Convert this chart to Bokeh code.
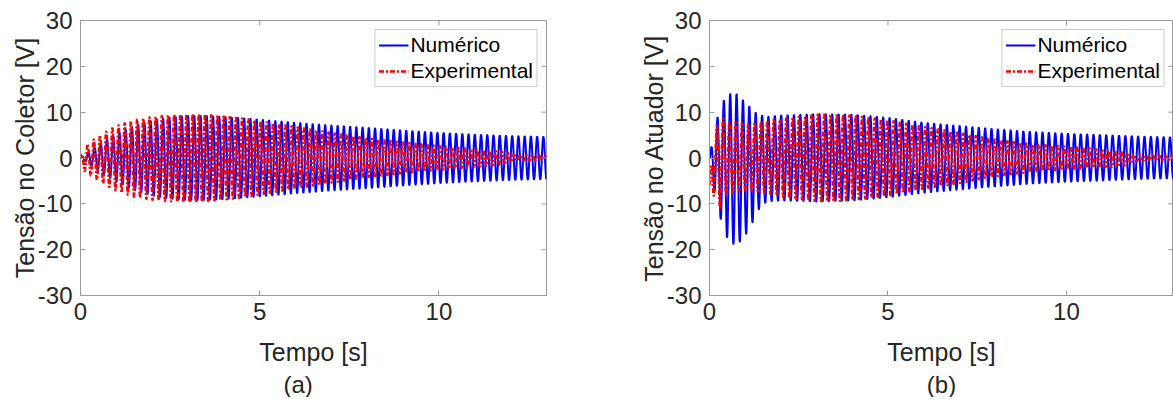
import numpy as np
from bokeh.plotting import figure
from bokeh.layouts import row
from bokeh.models import FixedTicker, Title, Range1d
from bokeh.embed import file_html
from bokeh.resources import INLINE

# ---------------- data ----------------
x_ticks = [0, 5, 10]
y_ticks = [-30, -20, -10, 0, 10, 20, 30]
y_tick_labels = {-30: "-30", -20: "-20", -10: "-10", 0: "0", 10: "10", 20: "20", 30: "30"}

# Panel (a): collector voltage — upper / lower envelope knots [V]
a_num_t = [0, 0.5, 1.0, 1.5, 2.0, 2.5, 3.0, 3.5, 4.0, 5.0, 6.0, 7.0, 8.0, 9.0, 10.0, 11.0, 12.0, 13.0]
a_num_up = [0.0, 2.8, 5.2, 7.0, 8.2, 8.9, 9.2, 9.2, 9.0, 8.4, 7.7, 7.1, 6.6, 6.0, 5.5, 5.1, 4.8, 4.6]
a_num_lo = [0.0, -2.8, -5.2, -7.0, -8.2, -8.9, -9.2, -9.2, -9.0, -8.4, -7.7, -7.1, -6.6, -6.0, -5.5, -5.1, -4.8, -4.6]
a_num_freq = 5.75  # Hz

a_exp_t = [0, 0.1, 0.5, 1.0, 1.5, 2.0, 2.5, 3.0, 3.5, 4.0, 4.5, 5.0, 6.0, 7.0, 8.0, 9.0, 10.0, 11.0, 11.8, 12.1, 13.0]
a_exp_up = [0.0, 2.5, 4.8, 7.0, 8.3, 9.0, 9.4, 9.6, 9.5, 9.1, 8.7, 8.1, 6.8, 5.5, 4.3, 3.4, 2.6, 1.9, 1.4, 0.7, 0.6]
a_exp_lo = [-1.0, -2.8, -5.0, -7.2, -8.5, -9.2, -9.5, -9.7, -9.5, -9.1, -8.7, -8.0, -6.7, -5.4, -4.2, -3.3, -2.6, -1.9, -1.5, -0.6, -0.4]
a_exp_freq = 5.8  # Hz

# Panel (b): actuator voltage
b_num_t = [0, 0.15, 0.35, 0.55, 0.75, 0.95, 1.15, 1.35, 1.6, 2.0, 3.0, 4.0, 5.0, 6.0, 7.0, 8.0, 9.0, 10.0, 11.0, 12.0, 13.0]
b_num_up = [0.0, 7.0, 12.0, 14.0, 14.0, 12.5, 11.0, 9.5, 9.0, 9.3, 9.6, 9.5, 8.8, 7.7, 7.0, 6.3, 5.7, 5.3, 5.0, 4.7, 4.5]
b_num_lo = [0.0, -8.0, -14.5, -18.5, -19.0, -17.5, -15.0, -11.5, -9.5, -9.3, -9.5, -9.3, -8.6, -7.6, -6.9, -6.2, -5.6, -5.2, -4.9, -4.6, -4.4]
b_num_freq = 5.6  # Hz

b_exp_t = [0, 0.1, 0.3, 0.5, 1.0, 1.5, 2.0, 3.0, 3.5, 4.0, 5.0, 6.0, 7.0, 8.0, 9.0, 10.0, 10.5, 11.0, 11.5, 12.0, 13.0]
b_exp_up = [-6.0, 5.0, 9.0, 8.0, 7.5, 8.0, 8.5, 9.5, 9.6, 9.3, 8.3, 6.8, 5.5, 4.0, 3.0, 2.5, 2.2, 1.8, 1.5, 0.6, 0.5]
b_exp_lo = [-6.0, -8.0, -11.0, -8.0, -7.0, -7.5, -8.5, -9.5, -9.5, -9.2, -8.3, -6.7, -5.5, -4.0, -3.0, -2.5, -2.3, -2.0, -2.0, -0.6, -0.4]
b_exp_freq = 5.65  # Hz

x_min, x_max = 0.0, 13.0
y_min, y_max = -30.0, 30.0
labels_y = ["Tensão no Coletor [V]", "Tensão no Atuador [V]"]
label_x = "Tempo [s]"
captions = ["(a)", "(b)"]
series_names = ["Numérico", "Experimental"]

# ---------------- helpers ----------------
FONT = "Liberation Sans"
TXT = "#262626"
AX = "#9a9a9a"
FRAME_H = 275
TICK_PX = 5


def oscillation(t_knots, up, lo, freq, phase0, t):
    up_i = np.interp(t, t_knots, up)
    lo_i = np.interp(t, t_knots, lo)
    mid = (up_i + lo_i) / 2.0
    half = (up_i - lo_i) / 2.0
    return mid + half * np.sin(2 * np.pi * freq * t + phase0)


def make_panel(idx, num, exp, border_left, frame_w, border_right, cap_align, cap_offset):
    p = figure(output_backend="svg", toolbar_location=None,
               frame_width=frame_w, frame_height=FRAME_H,
               min_border_left=border_left, min_border_right=border_right,
               min_border_top=20, min_border_bottom=0,
               x_range=Range1d(x_min, x_max), y_range=Range1d(y_min, y_max))
    p.xgrid.visible = False
    p.ygrid.visible = False
    p.outline_line_color = AX
    p.outline_line_width = 1

    t = np.linspace(x_min, x_max, 7000)
    y_num = oscillation(*num, 0.0, t)
    y_exp = oscillation(*exp, 0.6, t)
    p.line(t, y_num, line_color="#0000ff", line_width=2, legend_label=series_names[0])
    p.line(t, y_exp, line_color="#ff0000", line_width=2.4, line_dash="5 2 2 2",
           legend_label=series_names[1])

    # inward ticks on the top and right edges of the box
    dx = TICK_PX * (x_max - x_min) / frame_w
    dy = TICK_PX * (y_max - y_min) / FRAME_H
    xt = np.array(x_ticks, dtype=float)
    yt = np.array(y_ticks, dtype=float)
    p.segment(x0=xt, y0=np.full_like(xt, y_max), x1=xt, y1=np.full_like(xt, y_max - dy),
              line_color=AX, line_width=1)
    p.segment(x0=np.full_like(yt, x_max), y0=yt, x1=np.full_like(yt, x_max - dx), y1=yt,
              line_color=AX, line_width=1)

    for ax in (p.xaxis[0], p.yaxis[0]):
        ax.axis_line_color = AX
        ax.major_tick_line_color = AX
        ax.major_tick_in = TICK_PX
        ax.major_tick_out = 0
        ax.minor_tick_line_color = None
        ax.major_label_text_font = FONT
        ax.major_label_text_font_size = "24px"
        ax.major_label_text_color = TXT
        ax.axis_label_text_font = FONT
        ax.axis_label_text_font_size = "25px"
        ax.axis_label_text_font_style = "normal"
        ax.axis_label_text_color = TXT
    p.xaxis.ticker = FixedTicker(ticks=x_ticks)
    p.yaxis.ticker = FixedTicker(ticks=y_ticks)
    p.yaxis.major_label_overrides = y_tick_labels
    p.xaxis.axis_label = label_x
    p.yaxis.axis_label = labels_y[idx]
    p.xaxis.major_label_standoff = 7
    p.yaxis.major_label_standoff = 8
    p.xaxis.axis_label_standoff = 15
    p.yaxis.axis_label_standoff = -4

    cap = Title(text=captions[idx], align=cap_align, offset=cap_offset, standoff=0,
                text_font=FONT, text_font_size="24px", text_font_style="normal",
                text_color=TXT)
    p.add_layout(cap, "below")

    lg = p.legend[0]
    lg.location = "top_right"
    lg.margin = 9
    lg.label_text_font = FONT
    lg.label_text_font_size = "21px"
    lg.label_text_color = "#000000"
    lg.border_line_color = AX
    lg.border_line_width = 1
    lg.background_fill_alpha = 1
    lg.glyph_width = 30
    lg.label_standoff = 2
    lg.padding = 3
    lg.spacing = 2
    lg.label_height = 20
    lg.glyph_height = 20
    return p


pa = make_panel(0, (a_num_t, a_num_up, a_num_lo, a_num_freq),
                (a_exp_t, a_exp_up, a_exp_lo, a_exp_freq), 80, 466, 43, "left", 203)
pb = make_panel(1, (b_num_t, b_num_up, b_num_lo, b_num_freq),
                (b_exp_t, b_exp_up, b_exp_lo, b_exp_freq), 120, 464, 0, "center", 0)

layout = row(pa, pb, spacing=0)
open("out.html", "w").write(file_html(layout, INLINE))
